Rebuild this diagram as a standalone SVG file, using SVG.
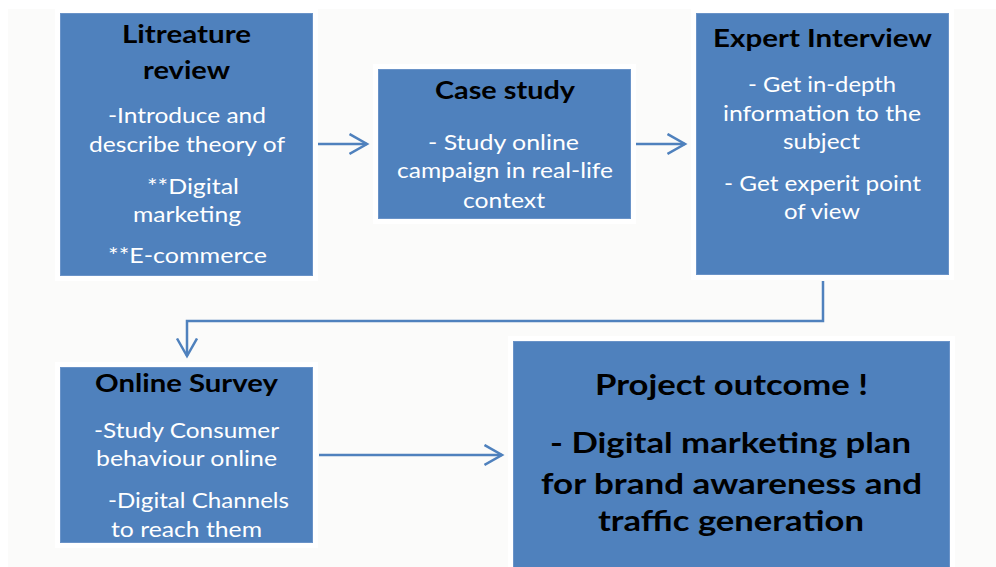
<svg xmlns="http://www.w3.org/2000/svg" width="996" height="567" viewBox="0 0 996 567">
  <defs>
    <style>
      .halo { fill: #ffffff; }
      .box { fill: #4f81bd; stroke: #6a93c8; stroke-width: 1; }
      .title { font-family: Lato, "Open Sans", sans-serif; font-weight: bold; font-size: 25.5px; fill: #000000; text-anchor: middle; }
      .body { font-family: Lato, "Open Sans", sans-serif; font-size: 21.5px; fill: #ffffff; text-anchor: middle; }
      .big { font-family: Lato, "Open Sans", sans-serif; font-weight: bold; font-size: 28.5px; fill: #000000; text-anchor: middle; }
      .conn { fill: none; stroke: #4f81bd; stroke-width: 2.5; }
    </style>
    <marker id="arrow" markerUnits="userSpaceOnUse" markerWidth="22" markerHeight="24" refX="18" refY="11" orient="auto" viewBox="0 0 22 24">
      <path d="M0.5,1 L18,11 L0.5,21" fill="none" stroke="#4f81bd" stroke-width="2.5"/>
    </marker>
  </defs>

  <rect x="0" y="0" width="996" height="567" fill="#ffffff"/>
  <rect x="8" y="9" width="988" height="558" fill="#fbfbfa"/>

  <g id="connectors">
    <path class="conn" d="M318,144 H367" marker-end="url(#arrow)"/>
    <path class="conn" d="M636,144 H685" marker-end="url(#arrow)"/>
    <path class="conn" d="M823,281 V321 H187 V356" marker-end="url(#arrow)"/>
    <path class="conn" d="M319,455 H502" marker-end="url(#arrow)"/>
  </g>

  <g id="literature-review">
    <rect class="halo" x="55" y="8" width="263" height="273"/>
    <rect class="box" x="60.5" y="13.5" width="252" height="262"/>
    <text class="title" x="186.5" y="43" textLength="129" lengthAdjust="spacingAndGlyphs">Litreature</text>
    <text class="title" x="186.5" y="79" textLength="87" lengthAdjust="spacingAndGlyphs">review</text>
    <text class="body" x="187" y="123" textLength="158" lengthAdjust="spacingAndGlyphs">-Introduce and</text>
    <text class="body" x="187" y="152" textLength="196" lengthAdjust="spacingAndGlyphs">describe theory of</text>
    <text class="body" x="193" y="194" textLength="92" lengthAdjust="spacingAndGlyphs">**Digital</text>
    <text class="body" x="187" y="222" textLength="108" lengthAdjust="spacingAndGlyphs">marketing</text>
    <text class="body" x="187.5" y="263" textLength="159" lengthAdjust="spacingAndGlyphs">**E-commerce</text>
  </g>

  <g id="case-study">
    <rect class="halo" x="373" y="64" width="263" height="160"/>
    <rect class="box" x="378.5" y="69.5" width="252" height="149"/>
    <text class="title" x="505" y="99" textLength="140" lengthAdjust="spacingAndGlyphs">Case study</text>
    <text class="body" x="503.5" y="150" textLength="151" lengthAdjust="spacingAndGlyphs">- Study online</text>
    <text class="body" x="505" y="178" textLength="216" lengthAdjust="spacingAndGlyphs">campaign in real-life</text>
    <text class="body" x="504" y="208" textLength="82" lengthAdjust="spacingAndGlyphs">context</text>
  </g>

  <g id="expert-interview">
    <rect class="halo" x="691" y="8" width="263" height="272"/>
    <rect class="box" x="696.5" y="13.5" width="252" height="261"/>
    <text class="title" x="822.5" y="47" textLength="219" lengthAdjust="spacingAndGlyphs">Expert Interview</text>
    <text class="body" x="822" y="92" textLength="148" lengthAdjust="spacingAndGlyphs">- Get in-depth</text>
    <text class="body" x="822" y="121" textLength="198" lengthAdjust="spacingAndGlyphs">information to the</text>
    <text class="body" x="821.5" y="149" textLength="77" lengthAdjust="spacingAndGlyphs">subject</text>
    <text class="body" x="822.5" y="191" textLength="197" lengthAdjust="spacingAndGlyphs">- Get experit point</text>
    <text class="body" x="822" y="219" textLength="76" lengthAdjust="spacingAndGlyphs">of view</text>
  </g>

  <g id="online-survey">
    <rect class="halo" x="55" y="362" width="263" height="186"/>
    <rect class="box" x="60.5" y="367.5" width="252" height="175"/>
    <text class="title" x="186.5" y="392" textLength="183" lengthAdjust="spacingAndGlyphs">Online Survey</text>
    <text class="body" x="186.5" y="438" textLength="185" lengthAdjust="spacingAndGlyphs">-Study Consumer</text>
    <text class="body" x="186.5" y="466" textLength="181" lengthAdjust="spacingAndGlyphs">behaviour online</text>
    <text class="body" x="198.5" y="508" textLength="181" lengthAdjust="spacingAndGlyphs">-Digital Channels</text>
    <text class="body" x="186.5" y="537" textLength="151" lengthAdjust="spacingAndGlyphs">to reach them</text>
  </g>

  <g id="project-outcome">
    <rect class="halo" x="508" y="336" width="447" height="240"/>
    <rect class="box" x="513.5" y="341.5" width="436" height="240"/>
    <text class="big" x="731.5" y="395" textLength="273" lengthAdjust="spacingAndGlyphs">Project outcome !</text>
    <text class="big" x="730.5" y="453" textLength="361" lengthAdjust="spacingAndGlyphs">- Digital marketing plan</text>
    <text class="big" x="731.5" y="494" textLength="381" lengthAdjust="spacingAndGlyphs">for brand awareness and</text>
    <text class="big" x="731" y="531" textLength="266" lengthAdjust="spacingAndGlyphs">traffic generation</text>
  </g>
</svg>
